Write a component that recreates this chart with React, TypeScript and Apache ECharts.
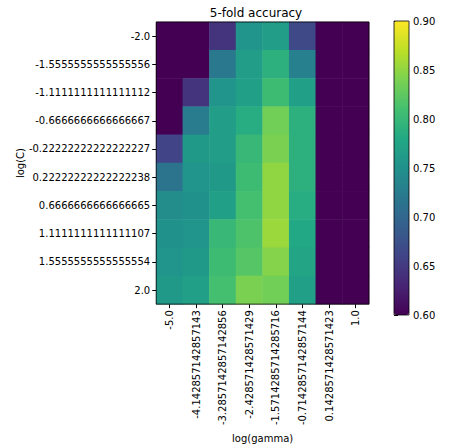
import React, { useEffect, useRef } from "react";
import * as echarts from "echarts";

const gammaLabels = ["-5.0", "-4.142857142857143", "-3.2857142857142856", "-2.428571428571429", "-1.5714285714285716", "-0.7142857142857144", "0.1428571428571423", "1.0"];
const cLabels = ["-2.0", "-1.5555555555555556", "-1.1111111111111112", "-0.6666666666666667", "-0.22222222222222227", "0.22222222222222238", "0.6666666666666665", "1.1111111111111107", "1.5555555555555554", "2.0"];
// rows = C (top to bottom), columns = gamma
const accuracy: number[][] = [
  [0.6, 0.6, 0.645, 0.755, 0.765, 0.665, 0.6, 0.6],
  [0.6, 0.6, 0.72, 0.765, 0.79, 0.73, 0.6, 0.6],
  [0.6, 0.645, 0.755, 0.77, 0.805, 0.77, 0.6, 0.6],
  [0.6, 0.725, 0.765, 0.785, 0.835, 0.79, 0.6, 0.6],
  [0.66, 0.76, 0.765, 0.8, 0.84, 0.79, 0.6, 0.6],
  [0.715, 0.755, 0.76, 0.805, 0.85, 0.79, 0.6, 0.6],
  [0.745, 0.75, 0.77, 0.81, 0.85, 0.785, 0.6, 0.6],
  [0.75, 0.755, 0.8, 0.815, 0.855, 0.78, 0.6, 0.6],
  [0.755, 0.76, 0.805, 0.82, 0.845, 0.775, 0.6, 0.6],
  [0.76, 0.77, 0.81, 0.84, 0.835, 0.77, 0.6, 0.6],
];
const viridis = ["#440154", "#482475", "#414487", "#355f8d", "#2a788e", "#21918c", "#22a884", "#44bf70", "#7ad151", "#bddf26", "#fde725"];

export default function App() {
  const ref = useRef<HTMLDivElement>(null);
  useEffect(() => {
    const chart = echarts.init(ref.current!, null, { renderer: "svg" });
    const data: number[][] = [];
    accuracy.forEach((row, r) => row.forEach((v, c) => data.push([c, r, v])));
    const font = "DejaVu Sans";
    chart.setOption({
      animation: false,
      textStyle: { fontFamily: font },
      title: {
        text: "5-fold accuracy",
        left: 251, top: 2, textAlign: "center",
        textStyle: { fontFamily: font, fontSize: 12, fontWeight: "normal", color: "#000" },
      },
      grid: [
        { left: 134, top: 22, width: 235, height: 293, show: true, borderColor: "#000", borderWidth: 0.8, z: 3, backgroundColor: "transparent" },
        { left: 394, top: 21, width: 15, height: 294, show: true, borderColor: "#000", borderWidth: 0.8, z: 5, backgroundColor: "transparent" },
      ],
      xAxis: [
        {
          type: "category", gridIndex: 0, data: gammaLabels, position: "bottom",
          name: "log(gamma)", nameLocation: "middle", nameGap: 116,
          nameTextStyle: { fontFamily: font, fontSize: 10, color: "#000" },
          axisLine: { show: false },
          axisTick: { show: true, alignWithLabel: true, length: 4, lineStyle: { color: "#000" } },
          axisLabel: { rotate: 90, fontSize: 10, color: "#000", fontFamily: font, margin: 6, interval: 0 },
          splitLine: { show: false },
        },
        { type: "value", gridIndex: 1, show: false, min: 0, max: 1 },
      ],
      yAxis: [
        {
          type: "category", gridIndex: 0, data: cLabels, inverse: true,
          name: "log(C)", nameLocation: "middle", nameGap: 122, nameRotate: 90,
          nameTextStyle: { fontFamily: font, fontSize: 10, color: "#000" },
          axisLine: { show: false },
          axisTick: { show: true, alignWithLabel: true, length: 4, lineStyle: { color: "#000" } },
          axisLabel: { fontSize: 10, color: "#000", fontFamily: font, margin: 6, interval: 0 },
          splitLine: { show: false },
        },
        {
          type: "value", gridIndex: 1, position: "right", min: 0.6, max: 0.9, interval: 0.05,
          axisLine: { show: false },
          axisTick: { show: true, length: 4, lineStyle: { color: "#000" } },
          axisLabel: { fontSize: 10, color: "#000", fontFamily: font, margin: 4, formatter: (v: number) => v.toFixed(2) },
          splitLine: { show: false },
        },
      ],
      visualMap: {
        type: "continuous", min: 0.6, max: 0.9, seriesIndex: 0, calculable: false,
        left: 394, top: 21, itemWidth: 15, itemHeight: 294, text: ["", ""], showLabel: false,
        inRange: { color: viridis }, padding: 0,
      },
      series: [
        {
          type: "heatmap", xAxisIndex: 0, yAxisIndex: 0, data,
          itemStyle: { borderWidth: 0 }, emphasis: { disabled: true },
        },
        { type: "scatter", xAxisIndex: 1, yAxisIndex: 1, data: [], silent: true },
      ],
    });
    return () => chart.dispose();
  }, []);
  return <div ref={ref} style={{ width: 468, height: 448, position: "absolute", left: 0, top: 0 }} />;
}
